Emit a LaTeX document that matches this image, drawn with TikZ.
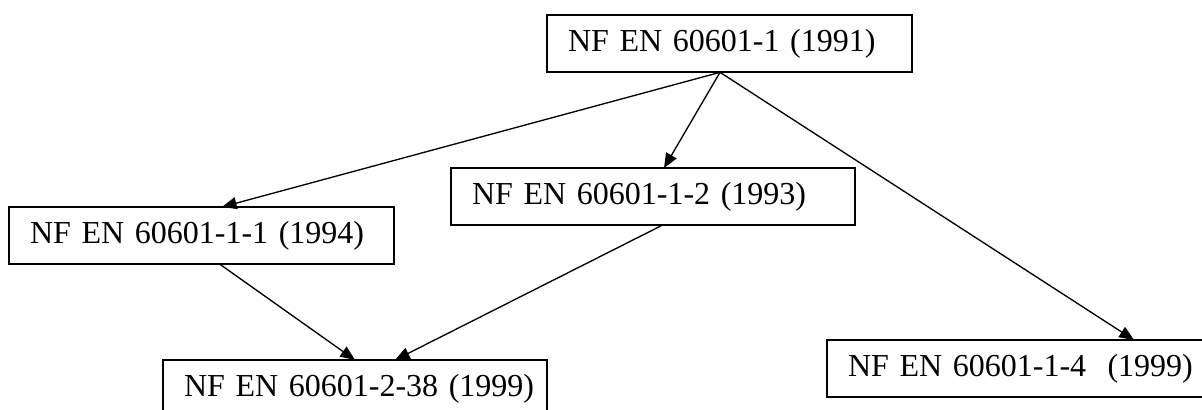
\documentclass[tikz,border=0pt]{standalone}
\usepackage{fontspec}
\setmainfont{Liberation Serif}
\usetikzlibrary{arrows.meta,calc}

\begin{document}
\begin{tikzpicture}[x=0.75pt, y=-0.75pt,
  norme/.style={draw, line width=1.3pt, anchor=north west, align=left, inner xsep=15.75pt, inner ysep=0pt, outer sep=0pt, minimum height=43pt, font=\fontsize{24}{28}\selectfont},
  fleche/.style={-{Triangle[length=11pt, width=9pt]}, line width=1pt}]
\useasboundingbox (0,0) rectangle (1202,410);
\node[norme, text width=242.25pt] (n1) at (547,15) {\mbox{NF EN 60601-1 (1991)}};
\node[norme, text width=257.25pt] (n11) at (9,207) {\mbox{NF EN 60601-1-1 (1994)}};
\node[norme, text width=271.5pt] (n12) at (451,168) {\mbox{NF EN 60601-1-2 (1993)}};
\node[norme, text width=256.5pt] (n238) at (163,360) {\mbox{NF EN 60601-2-38 (1999)}};
\node[norme, text width=255.75pt] (n14) at (827,340) {\mbox{NF EN 60601-1-4~ (1999)}};
\coordinate (depart) at ($(n1.south)+(-9.5,0)$);
\draw[fleche] (depart) -- ($(n11.north)+(20.5,0)$);
\draw[fleche] (depart) -- ($(n12.north)+(11,0)$);
\draw[fleche] (depart) -- ($(n14.north west)+(307,0)$);
\draw[fleche] ($(n11.south)+(18.5,0)$) -- (n238.north);
\draw[fleche] ($(n12.south)+(9,0)$) -- ($(n238.north)+(40,0)$);
\end{tikzpicture}
\end{document}
